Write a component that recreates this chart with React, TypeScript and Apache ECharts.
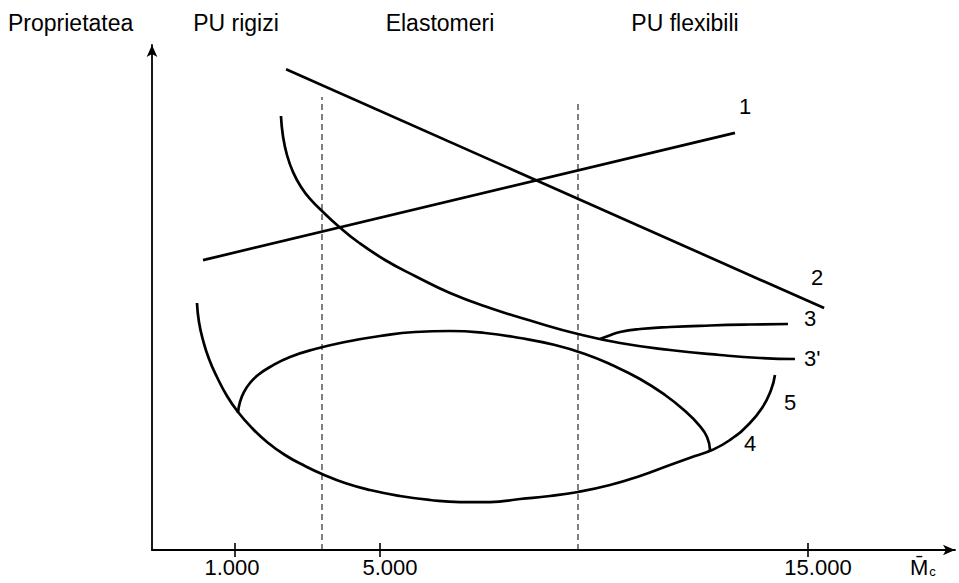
import React, { useEffect, useRef } from "react";
import * as echarts from "echarts";

// ---- texts ----
const yAxisTitle = "Proprietatea";
const regionLabels = ["PU rigizi", "Elastomeri", "PU flexibili"];
const xTickValues = [10.34, 28.39, 81.69];
const xLabelValues = [9.96, 29.64, 82.94, 96.0];
const xLabelTexts = ["1.000", "5.000", "15.000", "{m|M\u0304}{c|c}"];

// ---- region boundaries (dashed) ----
const boundaryX = [21.17, 53.05];
const boundaryTop = [89.7, 89.1];

// ---- curves (schematic units, x 0..100, y 0..100) ----
const line1: number[][] = [
  [6.35, 57.4],
  [72.6, 82.6],
];
const line2: number[][] = [
  [16.7, 95.2],
  [83.7, 47.9],
];
const curve3p: number[][] = [
  [16.06, 85.94], [16.31, 81.98], [16.81, 78.22], [17.56, 74.85], [18.56, 71.88],
  [19.8, 69.31], [21.17, 67.13], [23.04, 64.36], [25.65, 60.99], [29.02, 57.43],
  [32.75, 54.26], [37.11, 50.89], [42.09, 47.92], [47.7, 45.15], [53.05, 42.77],
  [58.28, 40.99], [64.51, 39.6], [70.73, 38.61], [75.72, 38.02], [80.07, 37.82],
];
const curve3: number[][] = [
  [55.79, 41.78], [56.79, 42.38], [58.28, 43.17], [60.77, 43.76], [64.51, 44.16],
  [69.49, 44.46], [74.47, 44.65], [79.2, 44.75],
];
const curve5: number[][] = [
  [5.6, 48.91], [5.85, 45.15], [6.35, 41.58], [7.1, 37.82], [8.09, 34.26],
  [9.34, 30.5], [10.71, 27.33], [12.45, 24.16], [14.32, 21.39], [16.56, 18.81],
  [19.05, 16.63], [21.17, 15.05], [24.03, 13.27], [27.15, 11.88], [30.88, 10.69],
  [34.62, 9.9], [38.36, 9.5], [42.09, 9.5], [45.83, 10.1], [49.56, 10.69],
  [53.05, 11.49], [57.04, 12.87], [60.77, 14.65], [64.51, 16.83], [67.62, 18.61],
  [69.74, 19.8], [71.98, 21.78], [74.22, 24.75], [75.97, 28.12], [77.09, 31.68],
  [77.58, 34.65],
];
const curve4: number[][] = [
  [10.71, 27.13], [10.96, 29.31], [11.46, 31.29], [12.2, 33.07], [13.2, 34.65],
  [14.69, 36.24], [17.19, 38.22], [20.3, 39.8], [24.03, 41.19], [28.39, 42.38],
  [32.75, 43.17], [37.11, 43.37], [41.47, 42.97], [45.83, 41.98], [50.19, 40.59],
  [53.92, 38.81], [57.28, 36.63], [60.77, 33.86], [63.89, 30.69], [66.38, 27.52],
  [68.12, 24.75], [69.12, 22.38], [69.49, 19.8],
];

const curveNames = ["1", "2", "3", "3'", "5", "4"];

const FONT = '"Liberation Sans", Arial, Helvetica, sans-serif';

export default function App() {
  const ref = useRef<HTMLDivElement>(null);

  useEffect(() => {
    if (!ref.current) return;
    const chart = echarts.init(ref.current, undefined, { renderer: "svg" });

    const solid = { color: "#000", width: 2.7 };
    const mkLabel = (text: string, offset: number[]) => ({
      show: true,
      formatter: text,
      offset,
      color: "#000",
      fontSize: 22,
      fontFamily: FONT,
      distance: 8,
    });

    const curveSeries = [
      { data: line1, smooth: false, label: mkLabel(curveNames[0], [-4, -26]) },
      { data: line2, smooth: false, label: mkLabel(curveNames[1], [-21, -31]) },
      { data: curve3, smooth: 0.5, label: mkLabel(curveNames[2], [8, -6]) },
      { data: curve3p, smooth: 0.5, label: mkLabel(curveNames[3], [1, -1]) },
      { data: curve5, smooth: 0.5, label: mkLabel(curveNames[4], [1, 27]) },
      { data: curve4, smooth: 0.5, label: mkLabel(curveNames[5], [26, -7]) },
    ].map((s) => ({
      type: "line",
      data: s.data,
      smooth: s.smooth,
      symbol: "none",
      lineStyle: solid,
      endLabel: s.label,
      silent: true,
      z: 3,
    }));

    const boundarySeries = boundaryX.map((x, i) => ({
      type: "line",
      data: [
        [x, 0],
        [x, boundaryTop[i]],
      ],
      symbol: "none",
      lineStyle: { color: "#000", width: 1, type: [6, 4] },
      silent: true,
      z: 2,
    }));

    const findIdx = (arr: number[], v: number) =>
      arr.findIndex((a) => Math.abs(a - v) < 1e-6);

    chart.setOption({
      animation: false,
      backgroundColor: "#fff",
      grid: { left: 152, right: 4, top: 45, bottom: 33, outerBoundsMode: "none", containLabel: false },
      xAxis: [
        {
          type: "value",
          min: 0,
          max: 100,
          position: "bottom",
          axisLine: {
            show: true,
            symbol: ["none", "arrow"],
            symbolSize: [8, 12],
            lineStyle: { color: "#000", width: 1.8 },
          },
          axisTick: {
            show: true,
            customValues: xTickValues,
            length: 7,
            lineStyle: { color: "#000", width: 1.6 },
          },
          axisLabel: {
            show: true,
            customValues: xLabelValues,
            margin: 6,
            color: "#000",
            fontSize: 22,
            fontFamily: FONT,
            formatter: (v: number) => {
              const i = findIdx(xLabelValues, v);
              return i >= 0 ? xLabelTexts[i] : "";
            },
            rich: {
              m: { fontSize: 22, fontFamily: FONT, color: "#000" },
              c: { fontSize: 13, fontFamily: FONT, color: "#000", padding: [9, 0, 0, 1] },
            },
          },
          splitLine: { show: false },
        },
        {
          type: "value",
          min: 0,
          max: 100,
          position: "bottom",
          axisLine: { show: false },
          axisTick: {
            show: true,
            inside: true,
            customValues: xTickValues,
            length: 7,
            lineStyle: { color: "#000", width: 1.6 },
          },
          axisLabel: { show: false },
          splitLine: { show: false },
        },
      ],
      yAxis: {
        type: "value",
        min: 0,
        max: 100,
        axisLine: {
          show: true,
          symbol: ["none", "arrow"],
          symbolSize: [8, 12],
          lineStyle: { color: "#000", width: 1.8 },
        },
        axisTick: { show: false },
        axisLabel: { show: false },
        splitLine: { show: false },
      },
      graphic: [
        {
          type: "text",
          x: 8,
          y: 23,
          style: {
            text: yAxisTitle,
            font: `23px ${FONT}`,
            fill: "#000",
            align: "left",
            verticalAlign: "middle",
            textAlign: "left",
            textVerticalAlign: "middle",
          },
        },
        ...regionLabels.map((t, i) => ({
          type: "text",
          x: [236, 440, 685][i],
          y: 23,
          style: {
            text: t,
            font: `23px ${FONT}`,
            fill: "#000",
            align: "center",
            verticalAlign: "middle",
            textAlign: "center",
            textVerticalAlign: "middle",
          },
        })),
      ],
      series: [...boundarySeries, ...curveSeries],
    });

    return () => chart.dispose();
  }, []);

  return <div ref={ref} style={{ width: 959, height: 583, position: "absolute", left: 0, top: 0 }} />;
}
